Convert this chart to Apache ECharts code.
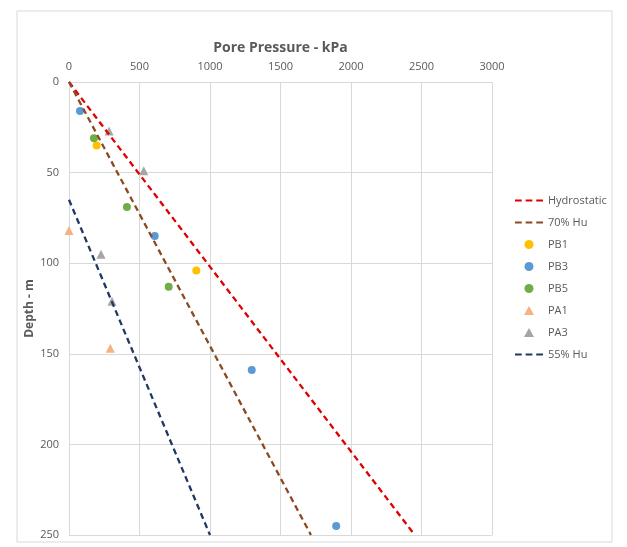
<!DOCTYPE html>
<html lang="en">
<head>
  <meta charset="UTF-8">
  <title>Pore Pressure - kPa</title>
  <script src="https://cdn.jsdelivr.net/npm/echarts@6/dist/echarts.min.js"></script>
</head>
<body style="margin:0;background:#fff;">
  <div id="main" style="width:627px;height:547px;"></div>
<script>
  // line series: [pressure kPa, depth m]
  const hydrostatic = [[0, 0], [2452, 250]];
  const hu70 = [[0, 0], [1716, 250]];
  const hu55 = [[0, 65], [1000, 250]];

  // measured points
  const pb1 = [[196, 35], [903, 104]];
  const pb3 = [[78, 16], [608, 85], [1296, 159], [1895, 245]];
  const pb5 = [[177, 31], [411, 69], [707, 113]];
  const pa1 = [[0, 82], [293, 147]];
  const pa3 = [[284, 27], [530, 49], [227, 95], [305, 121]];

  const txt = '#595959';
  const gridCol = '#d9d9d9';
  const font = 'Open Sans';

  // legend icons
  const dashIcon = 'path://M0,0h7v2h-7z M11,0h7v2h-7z M22,0h7v2h-7z';
  const triIcon = 'path://M5,0L10,9L0,9Z';

  function dashLine(name, data, color) {
    return {
      name: name, type: 'line', data: data, symbol: 'none',
      lineStyle: { color: color, width: 2.3, type: [6, 4] },
      itemStyle: { color: color },
      silent: true, animation: false
    };
  }
  function dots(name, data, color, shape, size) {
    return {
      name: name, type: 'scatter', data: data,
      symbol: shape, symbolSize: size,
      itemStyle: { color: color, opacity: 1 },
      animation: false
    };
  }

  let myChart = echarts.init(document.getElementById('main'));
  let option = {
    backgroundColor: '#fff',
    textStyle: { fontFamily: font },
    graphic: [{
      type: 'rect',
      shape: { x: 17, y: 11, width: 595, height: 531 },
      style: { fill: 'none', stroke: gridCol, lineWidth: 1 },
      silent: true
    }],
    grid: { left: 69, top: 82, right: 135, bottom: 12 },
    xAxis: {
      type: 'value', position: 'top', min: 0, max: 3000, interval: 500,
      name: 'Pore Pressure - kPa', nameLocation: 'middle', nameGap: 27,
      nameTextStyle: { color: txt, fontSize: 14, fontWeight: 'bold', fontFamily: font },
      axisLine: { show: true, lineStyle: { color: gridCol } },
      axisTick: { show: false },
      axisLabel: { color: txt, fontSize: 11, margin: 10, formatter: (v) => String(v) },
      splitLine: { show: true, lineStyle: { color: gridCol } }
    },
    yAxis: {
      type: 'value', inverse: true, min: 0, max: 250, interval: 50,
      name: 'Depth - m', nameLocation: 'middle', nameGap: 33, nameRotate: 90,
      nameMoveOverlap: false,
      nameTextStyle: { color: txt, fontSize: 12, fontWeight: 'bold', fontFamily: font },
      axisLine: { show: true, lineStyle: { color: gridCol } },
      axisTick: { show: false },
      axisLabel: { color: txt, fontSize: 11, margin: 10 },
      splitLine: { show: true, lineStyle: { color: gridCol } }
    },
    legend: {
      orient: 'vertical', left: 510, top: 190,
      itemWidth: 28, itemHeight: 9, itemGap: 11,
      textStyle: { color: txt, fontSize: 11 },
      data: [
        { name: 'Hydrostatic', icon: dashIcon },
        { name: '70% Hu', icon: dashIcon },
        { name: 'PB1', icon: 'circle' },
        { name: 'PB3', icon: 'circle' },
        { name: 'PB5', icon: 'circle' },
        { name: 'PA1', icon: triIcon },
        { name: 'PA3', icon: triIcon },
        { name: '55% Hu', icon: dashIcon }
      ]
    },
    series: [
      dashLine('Hydrostatic', hydrostatic, '#e00000'),
      dashLine('70% Hu', hu70, '#8b4a22'),
      dots('PB1', pb1, '#ffc000', 'circle', 8),
      dots('PB3', pb3, '#5b9bd5', 'circle', 8),
      dots('PB5', pb5, '#70ad47', 'circle', 8),
      dots('PA1', pa1, '#f4b183', 'triangle', 9),
      dots('PA3', pa3, '#a5a5a5', 'triangle', 9),
      dashLine('55% Hu', hu55, '#1f3864')
    ]
  };
  myChart.setOption(option, true);
</script>
</body>
</html>
